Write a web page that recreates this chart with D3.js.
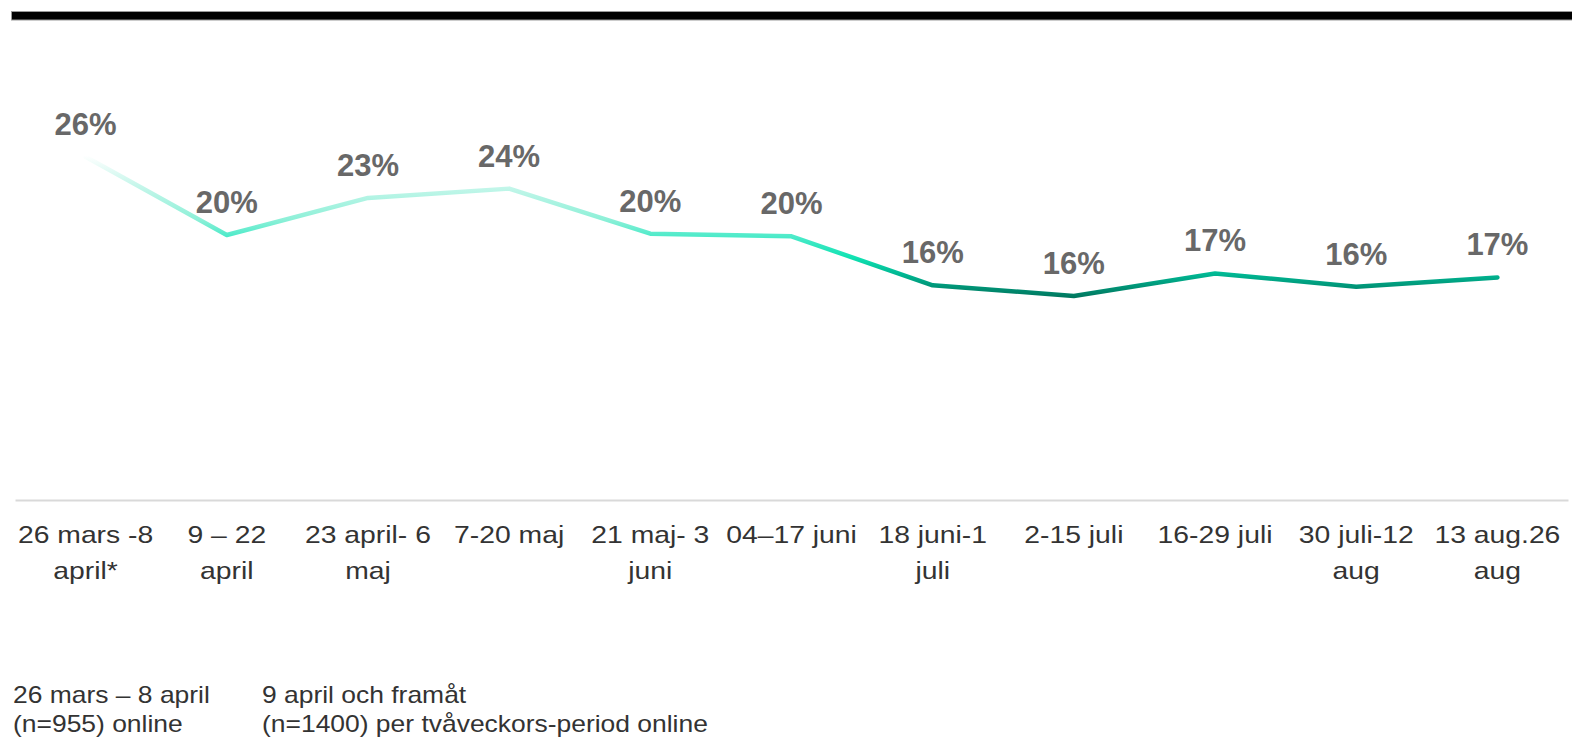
<!DOCTYPE html>
<html>
<head>
<meta charset="utf-8">
<script src="https://cdn.jsdelivr.net/npm/d3@7"></script>
<style>
  body { margin: 0; background: #fff; }
  svg { display: block; font-family: "Liberation Sans", Arial, sans-serif; }
</style>
</head>
<body>
<script>
// periods (two-line category labels)
var periods = [
  ["26 mars -8", "april*"],
  ["9 \u2013 22", "april"],
  ["23 april- 6", "maj"],
  ["7-20 maj"],
  ["21 maj- 3", "juni"],
  ["04\u201317 juni"],
  ["18 juni-1", "juli"],
  ["2-15 juli"],
  ["16-29 juli"],
  ["30 juli-12", "aug"],
  ["13 aug.26", "aug"]
];
// share (%)
var shares = [25.9, 20.0, 22.8, 23.5, 20.1, 19.9, 16.2, 15.4, 17.1, 16.1, 16.8];
var shareLabels = ["26%", "20%", "23%", "24%", "20%", "20%", "16%", "16%", "17%", "16%", "17%"];
var notes = [
  ["26 mars \u2013 8 april", "(n=955) online"],
  ["9 april och fram\u00e5t", "(n=1400) per tv\u00e5veckors-period online"]
];

var width = 1572, height = 740;

var svg = d3.select("body").append("svg")
  .attr("width", width)
  .attr("height", height);

// black bar at top
svg.append("rect")
  .attr("x", 11.5).attr("y", 11.5)
  .attr("width", width).attr("height", 8.5)
  .attr("fill", "#000")
  .attr("stroke", "#999").attr("stroke-width", 1);

var keys = periods.map(function(d, i){ return "p" + i; });

var x = d3.scalePoint()
  .domain(keys)
  .range([15, 1568])
  .padding(0.5);

var y = d3.scaleLinear()
  .domain([0, 20])
  .range([500, 235]);

// axis line only
var axis = svg.append("g")
  .attr("transform", "translate(0,500)")
  .call(d3.axisBottom(x).tickSize(0).tickFormat(""));
axis.select(".domain").attr("stroke", "#d9d9d9").attr("stroke-width", 2);

// category labels
var cat = svg.selectAll(".cat")
  .data(periods)
  .enter().append("text")
  .attr("class", "cat")
  .attr("text-anchor", "middle")
  .attr("font-size", 24)
  .attr("fill", "#333")
  .attr("transform", function(d, i){ return "translate(" + x(keys[i]) + ",543) scale(1.18,1)"; });
cat.selectAll("tspan")
  .data(function(d){ return d; })
  .enter().append("tspan")
  .attr("x", 0)
  .attr("dy", function(d, j){ return j ? 36 : 0; })
  .text(function(d){ return d; });

// vertical gradient for the line
var grad = svg.append("defs").append("linearGradient")
  .attr("id", "lineGrad")
  .attr("gradientUnits", "userSpaceOnUse")
  .attr("x1", 0).attr("x2", 0)
  .attr("y1", y(26)).attr("y2", y(15.3));
[
  [0, "#ffffff"],
  [0.22, "#c4f6ea"],
  [0.45, "#8ef0d8"],
  [0.58, "#48eac8"],
  [0.72, "#10e2b2"],
  [0.84, "#00b692"],
  [1, "#00765e"]
].forEach(function(s){
  grad.append("stop").attr("offset", s[0]).attr("stop-color", s[1]);
});

var line = d3.line()
  .x(function(d, i){ return x(keys[i]); })
  .y(function(d){ return y(d); });

svg.append("path")
  .datum(shares)
  .attr("d", line)
  .attr("fill", "none")
  .attr("stroke", "url(#lineGrad)")
  .attr("stroke-width", 4.5)
  .attr("stroke-linecap", "round")
  .attr("stroke-linejoin", "round");

// value labels
svg.selectAll(".val")
  .data(shares)
  .enter().append("text")
  .attr("class", "val")
  .attr("x", function(d, i){ return x(keys[i]); })
  .attr("y", function(d){ return y(d) - 22; })
  .attr("text-anchor", "middle")
  .attr("font-size", 31)
  .attr("font-weight", "bold")
  .attr("fill", "#686868")
  .text(function(d, i){ return shareLabels[i]; });

// footnotes
var noteX = [13, 262];
var nt = svg.selectAll(".note")
  .data(notes)
  .enter().append("text")
  .attr("class", "note")
  .attr("font-size", 23)
  .attr("fill", "#333")
  .attr("transform", function(d, i){ return "translate(" + noteX[i] + ",703) scale(1.15,1)"; });
nt.selectAll("tspan")
  .data(function(d){ return d; })
  .enter().append("tspan")
  .attr("x", 0)
  .attr("dy", function(d, j){ return j ? 29 : 0; })
  .text(function(d){ return d; });
</script>
</body>
</html>
